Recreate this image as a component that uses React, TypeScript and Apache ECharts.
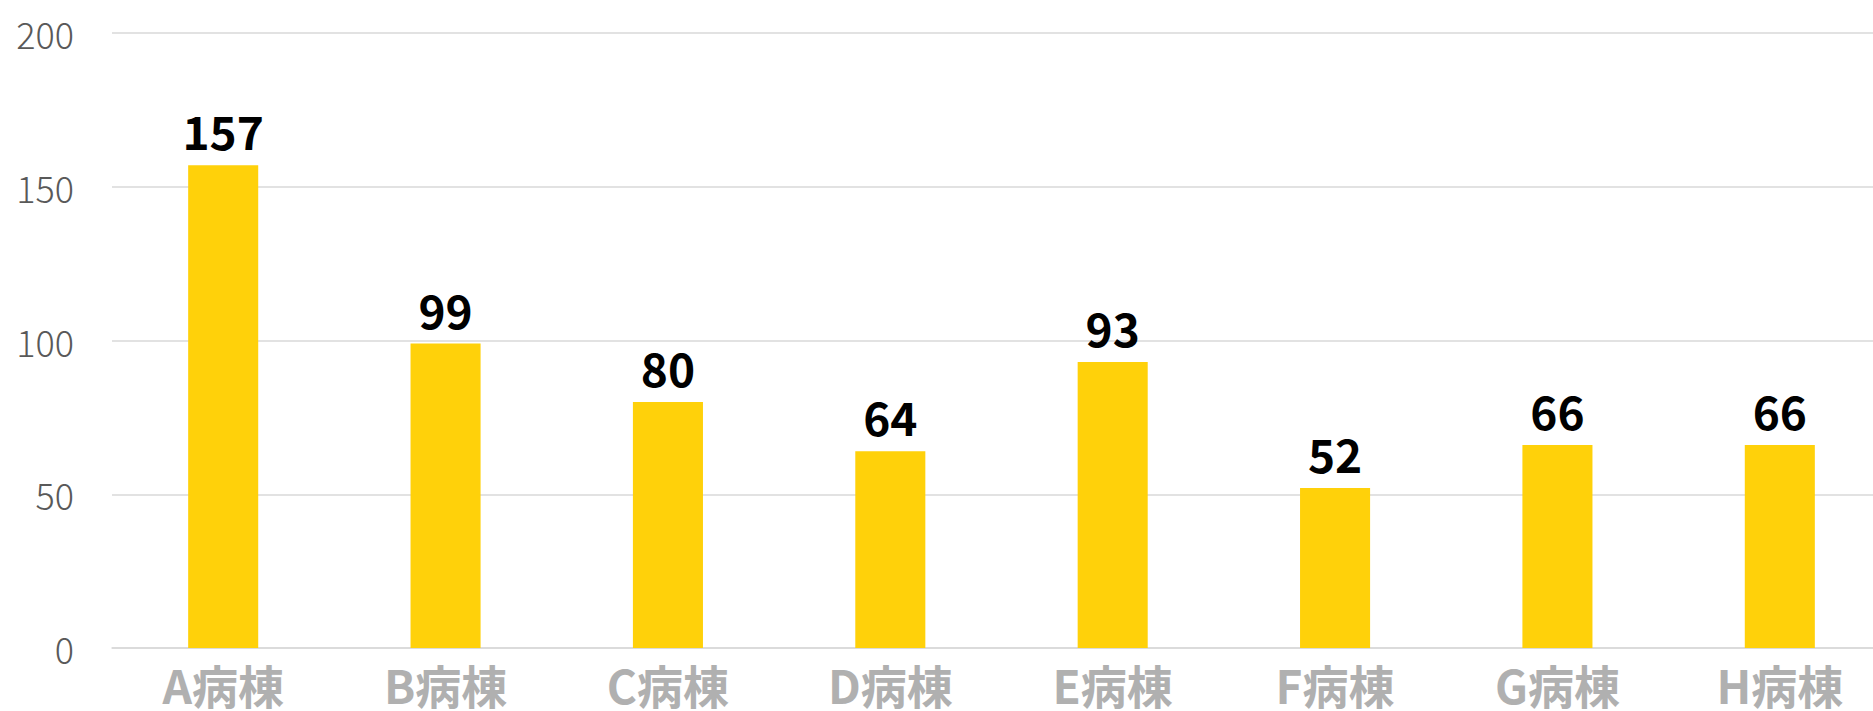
import React, { useEffect, useRef } from "react";
import * as echarts from "echarts";

const categories = ["A病棟", "B病棟", "C病棟", "D病棟", "E病棟", "F病棟", "G病棟", "H病棟"];
const values = [157, 99, 80, 64, 93, 52, 66, 66];
const yTicks = { min: 0, max: 200, interval: 50 };

export default function App() {
  const ref = useRef<HTMLDivElement>(null);
  useEffect(() => {
    if (!ref.current) return;
    const chart = echarts.init(ref.current, undefined, { renderer: "svg" });
    chart.setOption({
      animation: false,
      backgroundColor: "#ffffff",
      grid: {
        left: 112,
        top: 33,
        bottom: 63,
        right: -18,
        containLabel: false,
        outerBoundsMode: "none",
      },
      xAxis: {
        type: "category",
        data: categories,
        axisLine: { show: true, lineStyle: { color: "#d9d9d9", width: 1.5 } },
        axisTick: { show: false },
        axisLabel: {
          color: "#b0b0b0",
          fontSize: 46,
          fontWeight: "bold",
          fontFamily: "Noto Sans CJK JP",
          margin: 13,
          interval: 0,
        },
      },
      yAxis: {
        type: "value",
        min: yTicks.min,
        max: yTicks.max,
        interval: yTicks.interval,
        axisLine: { show: false },
        axisTick: { show: false },
        splitLine: { lineStyle: { color: "#d9d9d9", width: 1.5 } },
        axisLabel: {
          color: "#595959",
          fontSize: 36,
          fontWeight: 300,
          fontFamily: "Noto Sans CJK JP",
          margin: 38,
          padding: [0, 0, 8, 0],
        },
      },
      series: [
        {
          type: "bar",
          data: values,
          barWidth: "31.5%",
          itemStyle: { color: "#FFD10A" },
          label: {
            show: true,
            position: "top",
            distance: 12,
            color: "#000000",
            fontSize: 46,
            fontWeight: "bold",
            fontFamily: "Noto Sans CJK JP",
          },
        },
      ],
    });
    return () => chart.dispose();
  }, []);
  return (
    <div
      ref={ref}
      style={{ position: "fixed", left: 0, top: 0, width: 1873, height: 711 }}
    />
  );
}
